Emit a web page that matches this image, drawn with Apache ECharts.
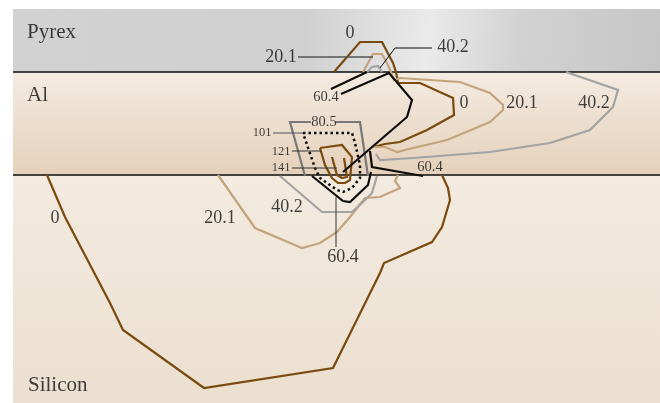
<!DOCTYPE html>
<html>
<head>
<meta charset="utf-8">
<script src="https://cdn.jsdelivr.net/npm/echarts@6/dist/echarts.min.js"></script>
<style>
  html, body { margin: 0; padding: 0; background: #ffffff; }
  #chart { width: 660px; height: 403px; }
</style>
</head>
<body>
<div id="chart"></div>
<script>
// Cross-section plane: x runs across the die, depth runs downward.
const plane = { xMin: 0, xMax: 660, depthMin: 0, depthMax: 403 };

// Material layers (depth of top and bottom interfaces)
const layerNames = ['Pyrex', 'Al', 'Silicon'];
const layerTop = [9, 72, 175];
const layerBottom = [72, 175, 403];
const layerLeft = 13;
const layerLabelAt = [[27, 32], [27, 95], [28, 385]];

// Contour polylines, [x, depth]
const c0Upper = [[334, 72], [360, 42], [382, 42], [393, 63], [396, 72], [398, 83], [420, 83], [453, 98], [454, 115], [427, 130], [400, 142], [385, 144], [373, 147]];
const c0Lower = [[47, 175], [65, 217], [110, 303], [123, 330], [204, 388], [333, 368], [380, 273], [384, 263], [432, 242], [442, 227], [450, 200], [448, 188], [442, 175]];
const c20Upper = [[363, 72], [373, 54], [382, 54], [387, 63], [391, 72], [394, 80], [400, 78], [460, 82], [490, 93], [503, 105], [503, 110], [490, 122], [447, 140], [413, 148], [397, 152], [385, 147], [373, 147]];
const c20Lower = [[218, 175], [255, 228], [302, 248], [320, 243], [337, 232], [350, 217], [365, 198], [380, 197], [400, 188], [395, 181], [398, 175]];
const c40Cap = [[366, 73], [372, 67], [378, 66], [382, 72]];
const c40Upper = [[566, 72], [618, 90], [613, 107], [590, 130], [550, 143], [490, 152], [413, 158], [380, 160], [376, 154]];
const c40Lower = [[280, 176], [322, 212], [352, 212], [362, 203], [372, 193], [377, 176]];
const c60A = [[331, 89], [367, 72]];
const c60B = [[341, 94], [389, 73], [412, 100], [407, 117], [343, 172]];
const c60C = [[370, 151], [372, 167], [423, 176]];
const c60D = [[312, 176], [343, 201], [350, 202], [368, 185], [371, 172]];
const c80Left = [[311, 122], [290, 122], [305, 176]];
const c80Right = [[336, 122], [360, 122], [368, 176]];
const c101 = [[303, 133], [352, 133], [355, 143], [360, 165], [360, 178], [352, 188], [343, 192], [337, 190], [320, 178], [315, 168], [303, 133]];
const c121 = [[320, 148], [342, 145], [352, 157], [350, 180], [345, 183], [338, 183], [332, 178], [325, 165], [320, 148]];
const c141 = [[332, 157], [337, 175], [342, 178], [347, 177], [344, 158]];

// Leader lines from labels to their contours
const lead20 = [[298, 57], [373, 57]];
const lead40 = [[380, 68], [395, 48], [432, 48]];
const lead101 = [[273, 133], [303, 133]];
const lead121 = [[292, 151], [321, 151]];
const lead141 = [[292, 168], [337, 168]];
const lead60 = [[336, 197], [336, 247]];

// Contour value labels, [x, depth, text]
const labelsLarge = [[350, 33, '0'], [281, 57, '20.1'], [453, 47, '40.2'], [464, 103, '0'], [522, 103, '20.1'], [594, 103, '40.2'], [55, 218, '0'], [220, 218, '20.1'], [287, 207, '40.2'], [343, 257, '60.4']];
const labelsMedium = [[326, 97, '60.4'], [430, 167, '60.4'], [324, 122, '80.5']];
const labelsSmall = [[262, 133, '101'], [281, 152, '121'], [281, 168, '141']];

const BROWN = '#7a4a0e';
const TAN = '#c4a47c';
const GRAY = '#a3a3a3';
const DARKGRAY = '#777777';
const BLACK = '#0d0d0d';
const INK = '#111111';
const SERIF = "'Liberation Serif', 'Times New Roman', serif";

const G = echarts.graphic.LinearGradient;
const layerFills = [
  new G(0, 0, 1, 1, [
    { offset: 0, color: '#d2d2d2' },
    { offset: 0.45, color: '#d0d0d0' },
    { offset: 0.64, color: '#eaeaea' },
    { offset: 0.78, color: '#d2d2d2' },
    { offset: 1, color: '#c6c6c6' }
  ]),
  new G(0, 0, 0, 1, [
    { offset: 0, color: '#f4ebe1' },
    { offset: 1, color: '#e5d1bb' }
  ]),
  new G(0, 0, 0, 1, [
    { offset: 0, color: '#f3ebe0' },
    { offset: 1, color: '#ebdfcf' }
  ])
];

function path(data, color, width, type) {
  return {
    type: 'line', data: data, symbol: 'none', silent: true, z: 3,
    lineStyle: { color: color, width: width, type: type || 'solid', cap: 'butt', join: 'miter' }
  };
}
function labels(data, size) {
  return {
    type: 'scatter', data: data, symbolSize: 0, silent: true, z: 5,
    label: {
      show: true, position: 'inside', formatter: p => p.data[2],
      fontFamily: SERIF, fontSize: size, color: INK
    }
  };
}

const chart = echarts.init(document.getElementById('chart'), null, { renderer: 'canvas' });
chart.setOption({
  animation: false,
  backgroundColor: '#ffffff',
  grid: { left: 0, right: 0, top: 0, bottom: 0 },
  xAxis: { type: 'value', min: plane.xMin, max: plane.xMax, show: false },
  yAxis: { type: 'value', min: plane.depthMin, max: plane.depthMax, inverse: true, show: false },
  series: [
    {
      type: 'line', data: [], silent: true, z: 1,
      markArea: {
        silent: true,
        data: layerNames.map((n, i) => [
          { xAxis: layerLeft, yAxis: layerTop[i], itemStyle: { color: layerFills[i] } },
          { xAxis: plane.xMax, yAxis: layerBottom[i] }
        ])
      }
    },
    {
      type: 'scatter', silent: true, z: 5, symbolSize: 0,
      data: layerNames.map((n, i) => [layerLabelAt[i][0], layerLabelAt[i][1], n]),
      label: {
        show: true, position: 'right', distance: 0, formatter: p => p.data[2],
        fontFamily: SERIF, fontSize: 21, color: INK
      }
    },
    path([[layerLeft, layerBottom[0]], [plane.xMax, layerBottom[0]]], BLACK, 1.5),
    path([[layerLeft, layerBottom[1]], [plane.xMax, layerBottom[1]]], BLACK, 1.5),
    path(c0Upper, BROWN, 2.2),
    path(c0Lower, BROWN, 2.2),
    path(c20Upper, TAN, 2.2),
    path(c20Lower, TAN, 2.2),
    path(c40Cap, GRAY, 2.2),
    path(c40Upper, GRAY, 2.2),
    path(c40Lower, GRAY, 2.2),
    path(c80Left, DARKGRAY, 2.2),
    path(c80Right, DARKGRAY, 2.2),
    path(c101, BLACK, 2.5, [2.5, 3]),
    path(c121, BROWN, 2.2),
    path(c141, BROWN, 2.2),
    path(c60A, BLACK, 2.2),
    path(c60B, BLACK, 2.2),
    path(c60C, BLACK, 2.2),
    path(c60D, BLACK, 2.2),
    path(lead20, '#555555', 1.5),
    path(lead40, BLACK, 1),
    path(lead101, '#555555', 1),
    path(lead121, '#333333', 1),
    path(lead141, '#333333', 1),
    path(lead60, '#333333', 1),
    labels(labelsLarge, 18),
    labels(labelsMedium, 14.5),
    labels(labelsSmall, 12.5)
  ]
});
</script>
</body>
</html>
